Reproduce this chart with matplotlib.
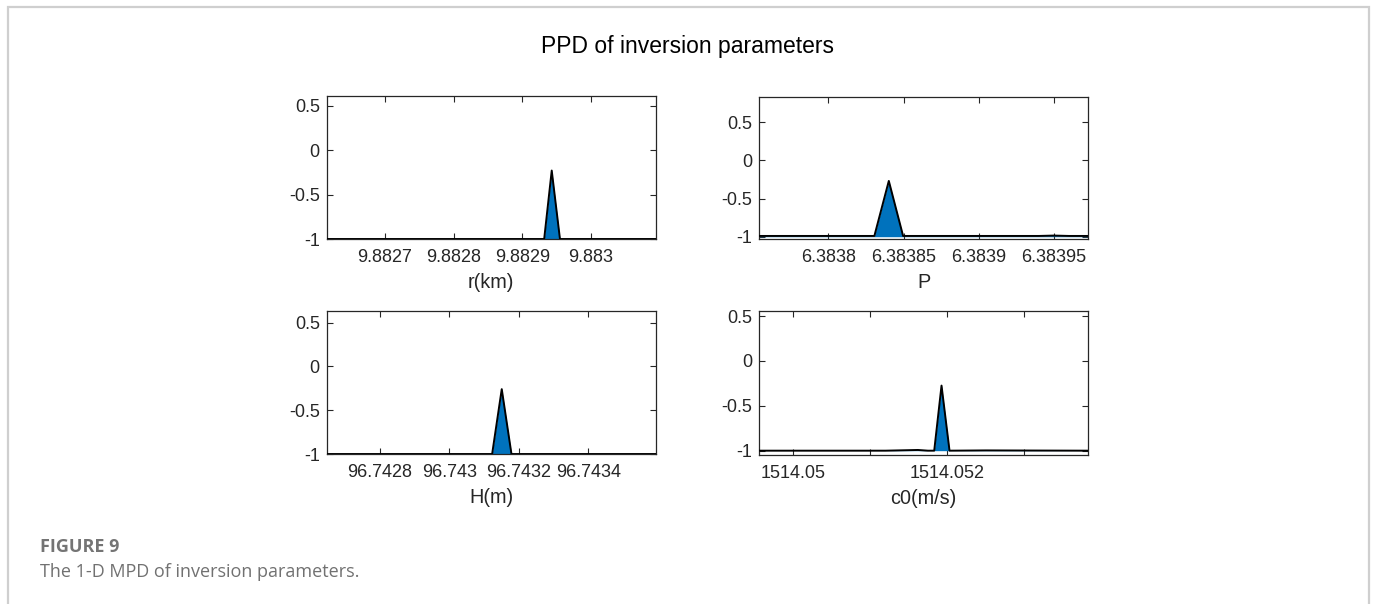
import matplotlib.pyplot as plt
from matplotlib.patches import Rectangle

plt.rcParams['font.family'] = ['Liberation Sans', 'DejaVu Sans']

# Marginal densities for each inversion parameter (log10 scale, floor at -1)
r_km = [9.882615, 9.882900, 9.882932, 9.882943, 9.882955, 9.883000, 9.883095]
r_pdf = [-1.0, -1.0, -1.0, -0.23, -1.0, -1.0, -1.0]

p_val = [6.3837541, 6.3838306, 6.3838402, 6.3838497, 6.3838700,
         6.3839400, 6.3839500, 6.3839600, 6.3839728]
p_pdf = [-0.99, -0.99, -0.268, -0.99, -0.99, -0.99, -0.985, -0.99, -0.99]

h_m = [96.7426464, 96.7431230, 96.7431507, 96.7431787, 96.7435951]
h_pdf = [-1.0, -1.0, -0.259, -1.0, -1.0]

c0_ms = [1514.049558, 1514.051200, 1514.051620, 1514.051750, 1514.051832,
         1514.051927, 1514.052031, 1514.052500, 1514.053835]
c0_pdf = [-1.0, -1.0, -0.992, -1.0, -1.0, -0.275, -1.0, -0.997, -1.0]

r_ticks = [9.8827, 9.8828, 9.8829, 9.8830]
r_labels = ['9.8827', '9.8828', '9.8829', '9.883']
p_ticks = [6.38380, 6.38385, 6.38390, 6.38395]
p_labels = ['6.3838', '6.38385', '6.3839', '6.38395']
h_ticks = [96.7428, 96.7430, 96.7432, 96.7434]
h_labels = ['96.7428', '96.743', '96.7432', '96.7434']
c0_ticks = [1514.050, 1514.051, 1514.052, 1514.053]
c0_labels = ['1514.05', '', '1514.052', '']

fill_color = '#0072bd'
ink = '#262626'

fig = plt.figure(figsize=(13.75, 6.04), dpi=100)

# light frame round the figure
fig.patches.append(Rectangle((8 / 1375, -0.1), 1361 / 1375, 1.1 - 7 / 604,
                             transform=fig.transFigure, fill=False,
                             edgecolor='#cfcfcf', linewidth=1.6))

panels = [
    ([0.2376, 0.6043, 0.2395, 0.2368], r_km, r_pdf, r_ticks, r_labels,
     'r(km)', (-1.0, 0.609), [-1, -0.5, 0, 0.5]),
    ([0.5522, 0.6038, 0.2393, 0.2361], p_val, p_pdf, p_ticks, p_labels,
     'P', (-1.034, 0.837), [-1, -0.5, 0, 0.5]),
    ([0.2376, 0.2483, 0.2395, 0.2368], h_m, h_pdf, h_ticks, h_labels,
     'H(m)', (-1.0, 0.633), [-1, -0.5, 0, 0.5]),
    ([0.5522, 0.2467, 0.2393, 0.2384], c0_ms, c0_pdf, c0_ticks, c0_labels,
     'c0(m/s)', (-1.048, 0.556), [-1, -0.5, 0, 0.5]),
]

for rect, x, y, ticks, labels, xlabel, ylim, yticks in panels:
    ax = fig.add_axes(rect)
    ax.fill_between(x, y, -1.0, color=fill_color, linewidth=0, zorder=2)
    ax.plot(x, y, color='black', linewidth=1.4, zorder=3)
    ax.set_xlim(x[0], x[-1])
    ax.set_ylim(*ylim)
    ax.set_xticks(ticks)
    ax.set_xticklabels(labels)
    ax.set_yticks(yticks)
    ax.set_yticklabels(['-1', '-0.5', '0', '0.5'])
    ax.tick_params(direction='in', top=True, right=True, length=4, width=0.8,
                   labelsize=13, colors=ink, pad=7)
    ax.tick_params(axis='y', pad=5)
    for sp in ax.spines.values():
        sp.set_color(ink)
        sp.set_linewidth(0.9)
    ax.set_xlabel(xlabel, fontsize=14.3, color=ink, labelpad=5)

fig.text(0.5, 1 - 47 / 604, 'PPD of inversion parameters', ha='center',
         va='center', fontsize=16.5, color='black')

fig.text(40 / 1375, 1 - 547 / 604, 'FIGURE 9', ha='left', va='center',
         fontsize=13, fontweight='bold', color='#747474',
         family=['Open Sans', 'DejaVu Sans'])
fig.text(40 / 1375, 1 - 572 / 604, 'The 1-D MPD of inversion parameters.',
         ha='left', va='center', fontsize=13, color='#717171',
         family=['Open Sans', 'DejaVu Sans'])

fig.savefig('out.png', dpi=100)
